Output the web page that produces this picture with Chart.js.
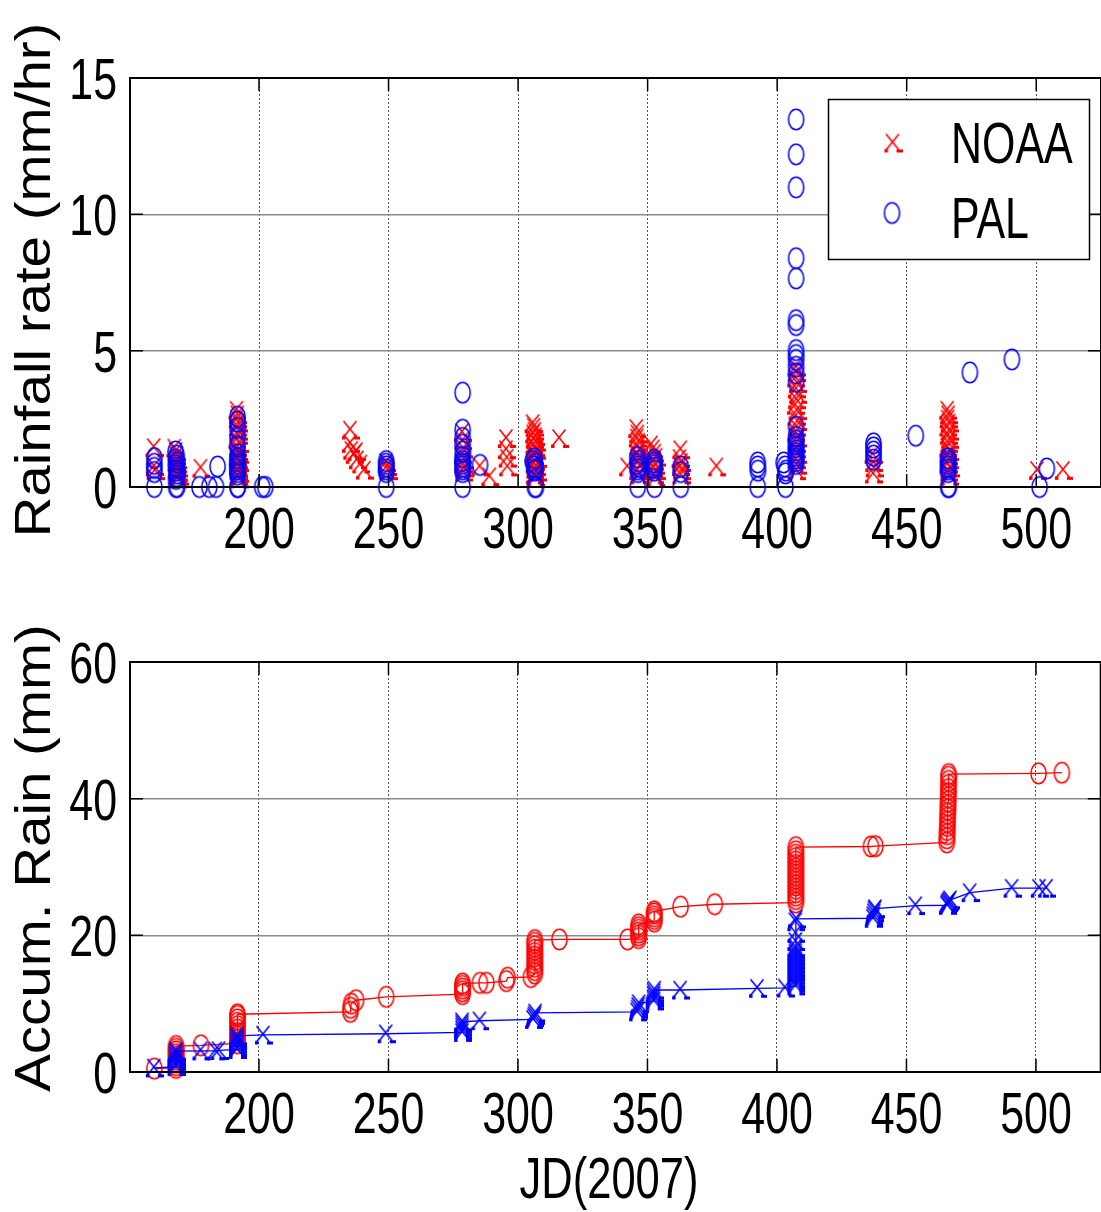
<!DOCTYPE html>
<html>
<head>
<meta charset="utf-8">
<script src="https://cdn.jsdelivr.net/npm/chart.js@4.4.0/dist/chart.umd.min.js"></script>
<style>
html, body { margin: 0; padding: 0; background: #fff; overflow: hidden; }
#fig { position: relative; width: 1101px; height: 1212px; overflow: hidden; }
#fig canvas { position: absolute; left: 0; }
</style>
</head>
<body>
<div id="fig">
  <canvas id="rate-chart" width="1110" height="600" style="top:0"></canvas>
  <canvas id="accum-chart" width="1110" height="612" style="top:600px"></canvas>
</div>
<script>
// tick labels
const X_TICKS     = [200, 250, 300, 350, 400, 450, 500];
const RATE_TICKS  = [0, 5, 10, 15];
const ACCUM_TICKS = [0, 20, 40, 60];

// top panel: NOAA rain rate (red x)
const noaaRateDay = [
    159.5, 159.6, 159.9,
    167.5, 168.0, 168.2, 168.4, 168.0, 168.6, 168.3, 168.8, 168.1, 169.0, 168.5, 169.2, 168.7,
    177.6,
    191.5, 191.8, 191.6, 192.0, 191.7, 192.2, 191.9, 191.5, 192.3, 191.8, 192.1, 192.4, 191.6, 192.0, 192.5, 191.7, 192.2, 191.9, 192.6, 192.0, 192.3,
    235.3, 235.3, 235.8, 236.8, 237.6, 238.0, 239.3, 240.7,
    249.2, 249.5, 249.8,
    278.5, 278.7, 279.0, 278.6, 279.2, 278.8, 279.3, 279.0,
    285.3, 289.1,
    295.5, 295.5, 295.8, 296.0,
    305.8, 306.2, 306.5, 306.0, 306.8, 306.3, 307.0, 306.1, 306.6, 307.2, 305.9, 306.4, 307.4, 306.7, 306.2, 307.0, 306.5, 307.5, 306.3, 306.9,
    316.0, 342.3,
    345.8, 346.2, 346.0, 346.6, 346.3, 346.9, 346.1, 346.7, 346.4, 347.0, 346.2, 346.8,
    351.5, 352.2, 352.8, 353.3, 352.5, 353.0, 352.1, 353.5, 352.7, 353.2,
    362.8, 362.5, 363.0, 362.7, 363.2, 362.9,
    376.7,
    407.3, 407.6, 407.2, 407.8, 407.4, 407.9, 407.5, 407.1, 407.7, 407.3, 407.9, 407.5, 407.2, 407.8, 407.4, 407.6, 407.9, 407.3, 407.7, 407.5,
    437.0, 437.3, 437.5, 437.2,
    465.8, 466.2, 466.0, 466.4, 465.9, 466.5, 466.1, 466.6, 466.3, 465.9, 466.7, 466.2, 466.5, 466.0, 466.8, 466.3, 466.6,
    500.5, 510.5,
];
const noaaRate = [
    1.45, 0.75, 0.60,
    1.43, 1.30, 1.15, 1.00, 0.90, 0.85, 0.75, 0.70, 0.65, 0.55, 0.50, 0.40, 0.30,
    0.69,
    2.82, 2.65, 2.50, 2.35, 2.20, 2.05, 1.90, 1.75, 1.60, 1.45, 1.30, 1.20, 1.10, 1.00, 0.90, 0.80, 0.70, 0.60, 0.50, 0.40, 0.30,
    2.09, 1.60, 1.35, 1.20, 1.30, 1.00, 0.85, 0.62,
    0.90, 0.75, 0.60,
    2.00, 1.70, 1.40, 1.20, 1.00, 0.85, 0.70, 0.55,
    0.74, 0.38,
    1.78, 1.37, 1.06, 0.74,
    2.33, 2.20, 2.05, 1.95, 1.85, 1.75, 1.65, 1.55, 1.45, 1.35, 1.25, 1.15, 1.05, 0.95, 0.85, 0.75, 0.65, 0.55, 0.45, 0.35,
    1.78, 0.74,
    2.15, 1.95, 1.80, 1.65, 1.50, 1.35, 1.20, 1.05, 0.90, 0.75, 0.60, 0.45,
    1.55, 1.40, 1.25, 1.10, 0.95, 0.80, 0.70, 0.60, 0.45, 0.35,
    1.37, 1.05, 0.90, 0.75, 0.60, 0.45,
    0.74,
    4.40, 4.20, 4.00, 3.80, 3.60, 3.40, 3.20, 3.00, 2.80, 2.60, 2.40, 2.20, 2.00, 1.80, 1.60, 1.40, 1.20, 1.00, 0.80, 0.60,
    1.20, 0.90, 0.70, 0.48,
    2.82, 2.65, 2.50, 2.35, 2.20, 2.05, 1.90, 1.75, 1.60, 1.45, 1.30, 1.15, 1.00, 0.85, 0.70, 0.55, 0.40,
    0.61, 0.61,
];

// top panel: PAL rain rate (blue o)
const palRateDay = [
    159.6, 159.6, 159.6, 159.6, 159.6,
    167.8, 168.2, 168.0, 168.4, 167.9, 168.3, 168.1, 168.5, 168.2, 168.0, 168.0, 168.4,
    177.0, 180.8, 183.4, 184.0,
    191.7, 191.7, 191.8, 191.7, 191.6, 191.8, 191.7, 191.6, 191.8, 191.7, 191.6, 191.8, 191.7, 191.7, 191.8,
    201.2, 202.4,
    249.1, 249.1, 249.2, 249.1, 249.1, 249.1,
    278.6, 278.6, 278.6, 278.6, 278.7, 278.6, 278.5, 278.6, 278.7, 278.6, 278.6, 278.6,
    285.3,
    305.6, 306.3, 306.6, 306.2, 306.8, 306.4, 306.5, 306.9,
    346.0, 346.3, 346.1, 346.4, 346.2, 346.3, 346.2,
    352.6, 352.6, 352.7, 352.6, 352.6, 352.7,
    362.8, 362.8, 362.8,
    392.5, 392.5, 392.6, 392.5,
    402.5, 403.0, 403.4, 403.2, 403.2,
    407.3, 407.3, 407.3, 407.3, 407.3, 407.3, 407.3, 407.3, 407.3, 407.3, 407.3, 407.3, 407.3,
    407.3, 407.3, 407.3, 407.3, 407.3, 407.3, 407.3, 407.3, 407.3, 407.3, 407.3,
    437.2, 437.2, 437.2, 437.2, 437.2,
    453.5,
    466.0, 466.0, 466.0, 466.0, 466.0, 466.0, 466.0, 466.3,
    474.4, 490.6, 501.3, 504.1,
];
const palRate = [
    1.06, 0.85, 0.70, 0.55, 0,
    1.30, 1.15, 1.00, 0.90, 0.80, 0.70, 0.60, 0.50, 0.40, 0.30, 0, 0,
    0, 0, 0, 0.75,
    2.58, 2.40, 2.16, 1.80, 1.50, 1.20, 1.05, 0.95, 0.85, 0.75, 0.65, 0.55, 0.45, 0, 0,
    0, 0,
    0.95, 0.85, 0.75, 0.65, 0.55, 0,
    3.46, 2.10, 1.80, 1.55, 1.30, 1.10, 0.95, 0.85, 0.75, 0.65, 0.55, 0,
    0.81,
    0.95, 1.05, 0.85, 0.75, 0.65, 0.60, 0, 0,
    1.10, 0.95, 0.85, 0.75, 0.65, 0.55, 0,
    1.00, 0.90, 0.80, 0.70, 0.60, 0,
    0.75, 0.55, 0,
    0.90, 0.75, 0.60, 0,
    0.90, 0.75, 0.60, 0.50, 0,
    13.48, 12.20, 10.99, 8.39, 7.65, 6.12, 5.94, 5.02, 4.84, 4.66, 4.41, 4.17, 3.86,
    2.21, 1.84, 1.70, 1.58, 1.46, 1.35, 1.25, 1.15, 1.05, 0.95, 0.85,
    1.60, 1.45, 1.30, 1.15, 1.00,
    1.88,
    1.05, 0.95, 0.85, 0.75, 0.65, 0.55, 0, 0,
    4.20, 4.68, 0, 0.68,
];

// bottom panel: NOAA accumulated rain (red o)
const noaaAccumDay = [
    159.6,
    168.0, 168.0, 168.0, 168.0, 168.0, 168.0, 168.0, 168.0, 168.0,
    177.6,
    191.7, 191.7, 191.7, 191.7, 191.7, 191.7, 191.7, 191.7, 191.7, 191.7,
    235.3, 235.4, 235.6, 237.5,
    249.1,
    278.6, 278.6, 278.6, 278.6, 278.6,
    285.3, 287.8, 295.5, 296.0, 305.0,
    306.5, 306.5, 306.5, 306.5, 306.5, 306.5, 306.5, 306.5, 306.5, 306.5, 306.5,
    316.0, 342.3,
    346.6, 346.6, 346.6, 346.6, 346.6, 346.6,
    352.6, 352.6, 352.6, 352.6, 352.6,
    362.8, 376.0,
    407.3, 407.3, 407.3, 407.3, 407.3, 407.3, 407.3, 407.3, 407.3, 407.3, 407.3, 407.3, 407.3, 407.3, 407.3, 407.3, 407.3,
    436.3, 438.0,
    465.6, 465.6, 465.7, 465.7, 465.8, 465.8, 465.9, 465.9, 466.0, 466.0, 466.1, 466.1, 466.2, 466.2, 466.2, 466.3, 466.3, 466.3,
    501.0, 510.0,
];
const noaaAccum = [
    0.50,
    0.60, 1.00, 1.40, 1.80, 2.20, 2.60, 3.00, 3.40, 3.80,
    3.90,
    4.20, 4.70, 5.20, 5.70, 6.20, 6.70, 7.20, 7.70, 8.20, 8.45,
    8.80, 9.40, 10.00, 10.50,
    11.00,
    11.40, 11.80, 12.20, 12.60, 12.95,
    13.05, 13.05, 13.30, 13.80, 13.90,
    14.40, 14.90, 15.40, 15.90, 16.40, 16.90, 17.40, 17.90, 18.40, 18.90, 19.30,
    19.40, 19.40,
    19.60, 20.00, 20.40, 20.80, 21.20, 21.60,
    22.00, 22.40, 22.80, 23.20, 23.50,
    24.20, 24.55,
    24.80, 25.30, 25.80, 26.30, 26.80, 27.30, 27.80, 28.30, 28.80, 29.30, 29.80, 30.30, 30.80, 31.30, 31.80, 32.30, 32.90,
    33.00, 33.05,
    33.60, 34.20, 34.80, 35.40, 36.00, 36.60, 37.20, 37.80, 38.40, 39.00, 39.60, 40.20, 40.80, 41.40, 42.00, 42.60, 43.20, 43.60,
    43.70, 43.80,
];

// bottom panel: PAL accumulated rain (blue x)
const palAccumDay = [
    159.6,
    168.0, 168.0, 168.0, 168.0, 168.0, 168.0, 168.2,
    177.6, 183.3, 184.6,
    191.7, 191.7, 191.7, 191.7, 191.7, 191.7,
    201.7, 249.1,
    278.6, 278.6, 278.6, 278.6, 278.6,
    285.3,
    306.0, 306.4, 306.6, 306.8,
    346.2, 346.4, 346.6, 346.8,
    352.6, 352.6, 352.6, 352.6, 352.8,
    362.8, 392.5, 403.2,
    407.3, 407.3, 407.3, 407.3, 407.3, 407.3, 407.3, 407.3, 407.3, 407.3, 407.3, 407.3, 407.3, 407.3, 407.3, 407.3, 407.3, 407.3, 407.5,
    437.2, 437.4, 437.6, 437.8, 438.0,
    453.6,
    465.8, 466.0, 466.3, 466.6, 467.0,
    474.6, 490.8, 501.3, 504.1,
];
const palAccum = [
    0.60,
    0.80, 1.20, 1.60, 2.00, 2.40, 2.80, 3.05,
    3.10, 3.10, 3.15,
    3.30, 3.70, 4.10, 4.50, 4.90, 5.30,
    5.42, 5.60,
    5.80, 6.20, 6.60, 7.00, 7.35,
    7.50,
    7.70, 8.00, 8.30, 8.65,
    8.80, 9.20, 9.60, 10.00,
    10.40, 10.80, 11.20, 11.60, 12.00,
    12.00, 12.25, 12.30,
    12.60, 13.00, 13.40, 13.80, 14.20, 14.60, 15.00, 15.40, 15.80, 16.20, 16.60, 17.00, 17.40, 17.80, 18.20, 19.10, 20.30, 22.00, 22.40,
    22.50, 22.90, 23.30, 23.70, 23.90,
    24.35,
    24.40, 24.60, 24.80, 25.00, 25.20,
    26.25, 26.90, 26.90, 26.90,
];

const RED  = '#ff0000';
const BLUE = '#0000ff';
const TICK_LEN = 13;
const FONT = '58px "Liberation Sans", Arial, sans-serif';

const pts = (xs, ys) => xs.map((x, i) => ({ x, y: ys[i] }));

// matlab-ish markers: squashed circles and x's with the little render dashes
function makeCircle(color) {
    const c = document.createElement('canvas');
    c.width = 19; c.height = 25;
    const g = c.getContext('2d');
    g.strokeStyle = color;
    g.lineWidth = 1.5;
    g.beginPath();
    g.ellipse(9.5, 12.5, 7.6, 10.2, 0, 0, Math.PI * 2);
    g.stroke();
    return c;
}

function makeCross(color) {
    const c = document.createElement('canvas');
    c.width = 19; c.height = 21;
    const g = c.getContext('2d');
    g.strokeStyle = color;
    g.fillStyle = color;
    g.lineWidth = 1.6;
    g.beginPath();
    g.moveTo(2.5, 1.5);  g.lineTo(15.5, 17.5);
    g.moveTo(15.5, 1.5); g.lineTo(2.5, 17.5);
    g.stroke();
    g.fillRect(1, 16.5, 3.5, 3.5);
    g.fillRect(13, 17, 6, 3);
    return c;
}

const circleBlue = makeCircle(BLUE);
const circleRed  = makeCircle(RED);
const crossRed   = makeCross(RED);
const crossBlue  = makeCross(BLUE);

function narrow(ctx, str, x, y, align, sx) {
    ctx.save();
    ctx.translate(x, y);
    ctx.scale(sx, 1);
    ctx.textAlign = align;
    ctx.textBaseline = 'alphabetic';
    ctx.fillText(str, 0, 0);
    ctx.restore();
}

// box, inward ticks, labels, legend
const frame = {
    id: 'frame',
    afterDraw(chart, args, opts) {
        const { ctx, chartArea: a } = chart;
        const xs = chart.scales.x, ys = chart.scales.y;
        ctx.save();

        ctx.strokeStyle = '#000';
        ctx.lineWidth = 1.5;
        ctx.beginPath();
        for (const t of xs.ticks) {
            const px = xs.getPixelForValue(t.value);
            ctx.moveTo(px, a.bottom); ctx.lineTo(px, a.bottom - TICK_LEN);
            ctx.moveTo(px, a.top);    ctx.lineTo(px, a.top + TICK_LEN);
        }
        for (const t of ys.ticks) {
            const py = ys.getPixelForValue(t.value);
            ctx.moveTo(a.left, py);  ctx.lineTo(a.left + TICK_LEN, py);
            ctx.moveTo(a.right, py); ctx.lineTo(a.right - TICK_LEN, py);
        }
        ctx.stroke();
        ctx.lineWidth = 2;
        ctx.strokeRect(a.left, a.top, a.right - a.left, a.bottom - a.top);

        ctx.fillStyle = '#000';
        ctx.font = FONT;
        for (const t of xs.ticks)
            narrow(ctx, String(t.value), xs.getPixelForValue(t.value), a.bottom + 61, 'center', 0.74);
        for (const t of ys.ticks)
            narrow(ctx, String(t.value), 117, ys.getPixelForValue(t.value) + 21, 'right', 0.74);

        // rotated y title
        ctx.save();
        ctx.font = '50px "Liberation Sans", Arial, sans-serif';
        ctx.translate(50, opts.yTitleY);
        ctx.rotate(-Math.PI / 2);
        ctx.scale(1.13, 1);
        ctx.textAlign = 'center';
        ctx.fillText(opts.yTitle, 0, 0);
        ctx.restore();

        if (opts.xTitle) narrow(ctx, opts.xTitle, 609, a.bottom + 126, 'center', 0.75);

        if (opts.legend) {
            ctx.fillStyle = '#fff';
            ctx.fillRect(828.5, 99.5, 261, 160);
            ctx.lineWidth = 1.5;
            ctx.strokeStyle = '#000';
            ctx.strokeRect(828.5, 99.5, 261, 160);
            ctx.drawImage(crossRed, 893 - crossRed.width / 2, 143 - crossRed.height / 2);
            ctx.drawImage(circleBlue, 892 - circleBlue.width / 2, 213 - circleBlue.height / 2);
            ctx.fillStyle = '#000';
            narrow(ctx, 'NOAA', 951, 163, 'left', 0.74);
            narrow(ctx, 'PAL', 951, 238, 'left', 0.74);
        }
        ctx.restore();
    },
};

function scalesFor(yMin, yMax, yTicks, xAxisHeight) {
    return {
        x: {
            type: 'linear', min: 150.2, max: 525,
            afterBuildTicks: s => { s.ticks = X_TICKS.map(v => ({ value: v })); },
            afterFit: s => { s.height = xAxisHeight; },
            ticks: { display: false },
            grid: { color: '#555', lineWidth: 1, drawTicks: false, borderDash: [2, 2] },
            border: { display: false, dash: [2, 2] },
        },
        y: {
            type: 'linear', min: yMin, max: yMax,
            afterBuildTicks: s => { s.ticks = yTicks.map(v => ({ value: v })); },
            afterFit: s => { s.width = 130; },
            ticks: { display: false },
            grid: { color: '#8c8c8c', lineWidth: 1.5, drawTicks: false },
            border: { display: false },
        },
    };
}

const baseOpts = {
    responsive: false,
    devicePixelRatio: 1,
    animation: false,
    events: [],
};

new Chart(document.getElementById('rate-chart'), {
    type: 'scatter',
    data: {
        datasets: [
            { label: 'PAL',  data: pts(palRateDay, palRate),   pointStyle: circleBlue, pointRadius: 8, order: 0, clip: false },
            { label: 'NOAA', data: pts(noaaRateDay, noaaRate), pointStyle: crossRed,   pointRadius: 8, order: 1, clip: false },
        ],
    },
    options: {
        ...baseOpts,
        layout: { padding: { top: 78, right: 6, left: 0, bottom: 0 } },
        plugins: {
            legend: { display: false },
            tooltip: { enabled: false },
            frame: { yTitle: 'Rainfall rate (mm/hr)', yTitleY: 280, legend: true },
        },
        scales: scalesFor(0, 15, RATE_TICKS, 113),
    },
    plugins: [frame],
});

new Chart(document.getElementById('accum-chart'), {
    type: 'scatter',
    data: {
        datasets: [
            { label: 'PAL', data: pts(palAccumDay, palAccum), showLine: true, borderColor: BLUE, borderWidth: 1.3,
              pointStyle: crossBlue, pointRadius: 8, order: 0, clip: false },
            { label: 'NOAA', data: pts(noaaAccumDay, noaaAccum), showLine: true, borderColor: RED, borderWidth: 1.3,
              pointStyle: circleRed, pointRadius: 8, order: 1, clip: false },
        ],
    },
    options: {
        ...baseOpts,
        layout: { padding: { top: 62, right: 6, left: 0, bottom: 0 } },
        plugins: {
            legend: { display: false },
            tooltip: { enabled: false },
            frame: { yTitle: 'Accum. Rain (mm)', yTitleY: 258, xTitle: 'JD(2007)' },
        },
        scales: scalesFor(0, 60, ACCUM_TICKS, 140),
    },
    plugins: [frame],
});
</script>
</body>
</html>
